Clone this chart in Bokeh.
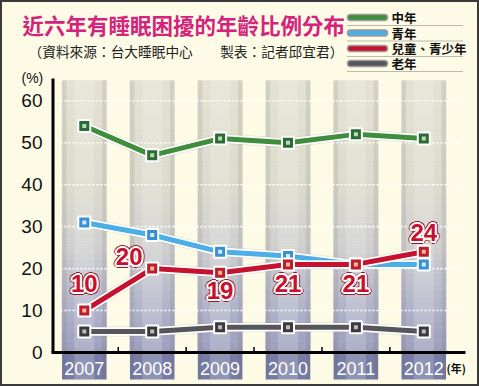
from bokeh.plotting import figure
from bokeh.models import Range1d, ColumnDataSource
from bokeh.core.properties import value
from bokeh.embed import file_html
from bokeh.resources import INLINE

# ---------------- data ----------------
years = ["2007", "2008", "2009", "2010", "2011", "2012"]
series_names = ["中年", "青年", "兒童、青少年", "老年"]
middle_age = [54, 47, 51, 50, 52, 51]
youth = [31, 28, 24, 23, 21, 21]
children_teen = [10, 20, 19, 21, 21, 24]
elderly = [5, 5, 6, 6, 6, 5]
y_ticks = [0, 10, 20, 30, 40, 50, 60]

title_text = "近六年有睡眠困擾的年齡比例分布"
subtitle_text = "（資料來源：台大睡眠中心　　製表：記者邱宜君）"
y_unit = "(%)"
x_unit = "(年)"

# ---------------- geometry helpers (figure px -> data) ----------------
X0, DX = 83.8, 67.9      # centre of first category, spacing (px)
Y0, DY = 352.0, 4.195    # y pixel of value 0, px per unit
W, H = 479, 386


def px2x(px):
    return (px - X0) / DX


def px2y(py):
    return (Y0 - py) / DY


CJK = value("Noto Sans CJK TC")
LAT = value("Liberation Sans")

p = figure(width=W, height=H, output_backend="svg", toolbar_location=None,
           x_range=Range1d(px2x(0), px2x(W)), y_range=Range1d(px2y(H), px2y(0)),
           x_axis_location=None, y_axis_location=None, min_border=0,
           min_border_left=0, min_border_right=0, min_border_top=0, min_border_bottom=0)
p.background_fill_color = "#FDFBE6"
p.border_fill_color = "#FDFBE6"
p.outline_line_color = "#3A3A3A"
p.outline_line_width = 3
p.xgrid.visible = False
p.ygrid.visible = False

xs = list(range(len(years)))

# ---------------- column bands (vertical gradient) ----------------
def lerp(c1, c2, t):
    a = [int(c1[i:i + 2], 16) for i in (1, 3, 5)]
    b = [int(c2[i:i + 2], 16) for i in (1, 3, 5)]
    return "#%02x%02x%02x" % tuple(int(round(a[k] + (b[k] - a[k]) * t)) for k in range(3))


band_top = px2y(80)
stops = [(band_top, "#E3E2D2"), (40, "#DCDBCD"), (25, "#CFCFCF"), (12, "#B4B6CA"), (0, "#9B9EBC")]
n = 44
bx, bb, bt, bc = [], [], [], []
for i in range(n):
    top = band_top - i * band_top / n
    bot = band_top - (i + 1) * band_top / n
    mid = (top + bot) / 2
    col = stops[-1][1]
    for k in range(len(stops) - 1):
        (v1, c1), (v2, c2) = stops[k], stops[k + 1]
        if v1 >= mid >= v2:
            col = lerp(c1, c2, (v1 - mid) / (v1 - v2))
            break
    for x in xs:
        bx.append(x); bt.append(top); bb.append(bot); bc.append(col)
bw = 44.5 / DX
p.vbar(x=bx, top=bt, bottom=bb, width=bw, fill_color=bc, line_color=bc, line_width=0.6)
# below-axis part of the bands
p.vbar(x=xs, top=0, bottom=px2y(379), width=bw, fill_color="#777CA4", line_color=None)
# cylindrical shading
p.vbar(x=xs, top=band_top, bottom=px2y(379), width=bw * 0.45, fill_color="white",
       fill_alpha=0.18, line_color=None)
for side in (-1, 1):
    p.vbar(x=[x + side * bw * 0.45 for x in xs], top=band_top, bottom=px2y(379),
           width=bw * 0.1, fill_color="#5A5A60", fill_alpha=0.12, line_color=None)

# dotted white grid lines
gy = [t for t in y_ticks if t > 0]
p.segment(x0=px2x(56), x1=px2x(460), y0=gy, y1=gy, line_color="white",
          line_width=1.6, line_dash="2 2", line_alpha=0.95)

# axes lines and ticks
p.segment(x0=px2x(52.5), x1=px2x(52.5), y0=0, y1=px2y(78), line_color="black", line_width=3)
p.segment(x0=px2x(51), x1=px2x(465), y0=0, y1=0, line_color="black", line_width=3)
mids = [x + 0.5 for x in xs[:-1]]
p.segment(x0=mids, x1=mids, y0=0, y1=5.5 / DY, line_color="black", line_width=1.5)

# y tick labels
p.text(x=px2x(42), y=y_ticks, text=[str(t) for t in y_ticks], text_font=LAT,
       text_font_size="19px", text_color="#111111", text_align="right", text_baseline="middle")

# ---------------- series ----------------
series = [
    (middle_age, "#3E8E3E", "#2C6A38", "#B5E0B0"),
    (youth, "#4BAEE6", "#3A8FD2", "#D0ECFF"),
    (children_teen, "#C6122E", "#B81E2C", "#F4B894"),
    (elderly, "#56565A", "#3A3A3C", "#BDBDBD"),
]
for vals, lc, mc, cc in series:
    p.line(xs, vals, line_color="#8A8A80", line_width=10, line_alpha=0.18)
    p.line(xs, vals, line_color="white", line_width=8.5)
    p.line(xs, vals, line_color=lc, line_width=5)
for vals, lc, mc, cc in series:
    p.scatter(xs, vals, marker="square", size=12, fill_color=mc, line_color="white", line_width=2)
    p.scatter(xs, vals, marker="square", size=4, fill_color=cc, line_color=None)

# red value labels with a white halo and thin dark rim
lab_dx = [0, -23, 0, 0, 0, 0]
lab_dy = [-27, -12, 18, 19, 19, -19]


def ring(r):
    d = r * 0.7071
    return [(-r, 0), (r, 0), (0, -r), (0, r), (-d, -d), (d, d), (-d, d), (d, -d)]


for radius, colour in ((3.0, "#9A1424"), (2.0, "white")):
    hx, hy, ht, hdx, hdy = [], [], [], [], []
    for ox, oy in ring(radius):
        for i in xs:
            hx.append(i); hy.append(children_teen[i]); ht.append(str(children_teen[i]))
            hdx.append(lab_dx[i] + ox); hdy.append(lab_dy[i] + oy)
    p.text(x=hx, y=hy, text=ht, x_offset=hdx, y_offset=hdy, text_font=LAT,
           text_font_style="bold", text_font_size="24px", text_color=colour,
           text_align="center", text_baseline="middle")
src = ColumnDataSource(dict(x=xs, y=children_teen, t=[str(v) for v in children_teen],
                            dx=lab_dx, dy=lab_dy))
p.text(x="x", y="y", text="t", x_offset="dx", y_offset="dy", source=src,
       text_font=LAT, text_font_style="bold", text_font_size="24px",
       text_color="#C8102E", text_align="center", text_baseline="middle")

# year labels inside the dark band feet
p.text(x=xs, y=px2y(368), text=years, text_font=LAT, text_font_size="18px",
       text_color="white", text_align="center", text_baseline="middle")
p.text(x=[px2x(446)], y=[px2y(367)], text=[x_unit], text_font=CJK, text_font_style="bold",
       text_font_size="11px", text_color="#111111", text_align="left", text_baseline="middle")

# ---------------- legend (drawn) ----------------
leg_colors = ["#3E8E3E", "#4BAEE6", "#C6122E", "#56565A"]
leg_y = [17, 32.5, 48, 63]
ly = [px2y(v) for v in leg_y]
p.segment(x0=px2x(350), x1=px2x(384), y0=ly, y1=ly,
          line_color="#9A9A9A", line_width=7.5, line_cap="round")
p.segment(x0=px2x(350), x1=px2x(384), y0=ly, y1=ly,
          line_color=leg_colors, line_width=4.5, line_cap="round")
p.text(x=px2x(391), y=ly, text=series_names, text_font=CJK, text_font_style="bold",
       text_font_size="12.5px", text_color="#111111", text_align="left", text_baseline="middle")
sep = [25, 40.5, 56, 71]
sy = [px2y(v) for v in sep]
p.segment(x0=px2x(347), x1=px2x(462), y0=sy, y1=sy,
          line_color="#777777", line_width=1, line_dash="1 1")

# ---------------- titles ----------------
p.text(x=[px2x(22)], y=[px2y(24)], text=[title_text], text_font=CJK, text_font_style="bold",
       text_font_size="21.5px", text_color="#D4237C", text_align="left", text_baseline="middle")
p.text(x=[px2x(28)], y=[px2y(50)], text=[subtitle_text], text_font=CJK,
       text_font_size="13.7px", text_color="#222222", text_align="left", text_baseline="middle")
p.text(x=[px2x(21)], y=[px2y(77)], text=[y_unit], text_font=LAT,
       text_font_size="14px", text_color="#111111", text_align="left", text_baseline="middle")

open("out.html", "w").write(file_html(p, INLINE))
